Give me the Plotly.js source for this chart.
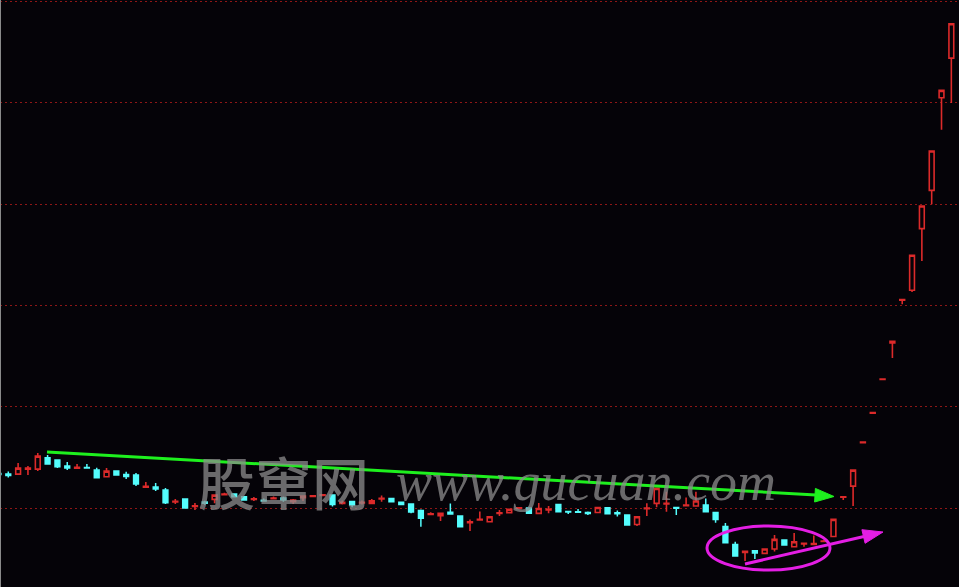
<!DOCTYPE html>
<html><head><meta charset="utf-8">
<script src="https://cdn.plot.ly/plotly-3.0.1.min.js"></script>
<style>html,body{margin:0;padding:0;background:#050308;overflow:hidden}</style>
</head><body><div id="chart" style="width:959px;height:587px"></div>
<script>
// Daily candles (price units)
const openP  = [12.65,12.60,12.60,13.10,13.10,14.23,14.00,13.40,13.20,13.27,
                13.00,12.33,12.90,12.55,12.50,11.30,11.30,11.00,9.80,10.10,
                9.35,9.80,10.07,10.53,10.60,10.33,10.07,9.97,10.13,10.20,
                9.83,10.25,10.37,10.47,10.50,9.67,9.85,9.70,9.67,10.10,
                10.17,9.77,9.60,8.95,8.57,8.43,8.77,8.40,7.73,8.00,
                7.83,8.67,8.73,9.17,9.20,8.67,9.00,9.55,8.85,8.83,
                8.75,8.75,9.23,8.73,8.50,7.55,9.13,9.67,9.60,9.25,
                9.43,9.40,9.50,8.75,7.35,5.55,4.77,4.93,4.67,5.10,
                6.00,5.33,5.60,5.57,5.85,6.35,10.30,11.40,15.75,18.70,
                22.07,25.73,30.00,31.00,37.17,41.00,50.27,54.23];
const highP  = [12.80,12.85,13.70,13.40,14.70,14.50,14.05,13.80,13.60,13.60,
                13.23,13.20,12.95,12.83,12.70,11.80,11.70,11.20,10.10,10.15,
                9.70,9.93,10.55,10.73,10.65,10.40,10.30,10.17,10.35,10.33,
                10.10,10.40,10.45,10.55,10.55,9.95,9.90,9.95,10.10,10.45,
                10.20,9.80,9.67,9.05,8.77,8.75,9.65,8.45,8.05,8.85,
                8.35,9.00,9.10,9.25,9.25,9.70,9.40,9.60,8.85,9.10,
                8.85,9.27,9.25,8.95,8.55,8.35,9.67,11.20,10.83,9.25,
                10.25,10.83,10.17,8.80,7.70,5.83,4.95,4.95,5.15,6.50,
                6.05,6.70,5.67,6.45,6.00,8.10,10.35,13.05,15.80,18.75,
                22.12,25.90,30.07,34.55,39.45,44.95,51.05,57.70];
const lowP   = [12.40,12.25,12.50,12.50,12.90,13.55,13.20,13.00,13.20,13.20,
                12.23,12.30,12.45,12.10,11.40,11.30,10.90,9.60,9.60,9.15,
                9.00,9.53,9.67,10.53,10.30,9.95,9.90,9.90,10.13,9.83,
                9.60,9.90,10.35,10.45,9.35,9.55,9.27,9.55,9.60,9.83,
                9.80,9.50,8.67,7.33,8.57,7.90,8.60,7.30,6.90,8.00,
                7.80,8.40,8.70,9.15,8.65,8.65,8.67,8.80,8.60,8.77,
                8.50,8.70,8.60,8.35,7.45,7.40,8.40,9.27,8.83,8.50,
                9.43,9.37,8.80,7.73,5.70,4.35,3.90,4.10,4.65,4.85,
                5.45,5.25,5.33,5.57,5.80,6.30,10.00,9.40,15.75,18.70,
                22.07,24.23,29.60,30.83,33.93,39.60,47.07,49.73];
const closeP = [12.55,12.45,13.20,13.20,14.40,13.60,13.33,13.20,13.27,13.20,
                12.23,12.90,12.50,12.35,11.60,11.37,11.10,9.73,9.87,9.20,
                9.43,9.67,10.50,10.60,10.33,10.00,10.13,9.90,10.20,10.00,
                10.00,10.40,10.43,10.53,9.55,9.77,9.50,9.77,9.93,10.17,
                9.83,9.55,8.80,8.17,8.63,8.67,8.60,7.33,7.83,8.07,
                8.33,8.73,9.07,9.23,8.67,9.15,9.07,8.83,8.80,8.77,
                8.65,9.25,8.63,8.63,7.50,8.33,9.20,11.17,9.67,9.17,
                9.50,9.90,8.83,8.05,5.73,4.40,4.87,4.70,5.10,6.07,
                5.50,5.83,5.67,5.65,5.90,8.07,10.33,13.00,15.80,18.75,
                22.12,25.90,30.07,34.50,39.43,44.93,51.00,57.67];
const dayIndex = openP.map((_, i) => i);

const W = 959, H = 587;
const BG = '#050308', RED = '#dc2a2a', CYAN = '#54fdfd';
const GREEN = '#1ef01e', MAGENTA = '#e41ee4';
const fx = p => p / W, fy = p => 1 - p / H;
const pathOf = pts => 'M ' + pts.map(([a, b]) => fx(a) + ' ' + fy(b)).join(' L ') + ' Z';

const trace = {
  type: 'candlestick',
  x: dayIndex, open: openP, high: highP, low: lowP, close: closeP,
  increasing: {line: {color: RED, width: 1.6}, fillcolor: BG},
  decreasing: {line: {color: CYAN, width: 1.5}, fillcolor: CYAN},
  hoverinfo: 'skip'
};

const layout = {
  width: W, height: H,
  margin: {l: 0, r: 0, t: 0, b: 0},
  paper_bgcolor: BG, plot_bgcolor: BG,
  showlegend: false,
  xaxis: {range: [0.155, 97.78], showgrid: false, zeroline: false, showticklabels: false,
          ticks: '', showline: false, rangeslider: {visible: false}, fixedrange: true},
  yaxis: {range: [1.3, 60.05], showgrid: true, gridcolor: '#8e1616', gridwidth: 1,
          griddash: '2px,3px', tick0: 9.17, dtick: 10.146, zeroline: false,
          showticklabels: false, ticks: '', showline: false, fixedrange: true},
  shapes: [
    {type: 'line', xref: 'paper', yref: 'paper', x0: fx(0.5), x1: fx(0.5), y0: 0, y1: 1,
     line: {color: '#8a8a8a', width: 1}},
    {type: 'line', xref: 'paper', yref: 'paper', x0: fx(47), y0: fy(452), x1: fx(816), y1: fy(495),
     line: {color: GREEN, width: 3}},
    {type: 'path', xref: 'paper', yref: 'paper', path: pathOf([[834, 496.5], [815.4, 488.4], [814.6, 502]]),
     fillcolor: GREEN, line: {color: GREEN, width: 1}},
    {type: 'circle', xref: 'paper', yref: 'paper', x0: fx(707), x1: fx(830), y0: fy(570), y1: fy(526),
     line: {color: MAGENTA, width: 3}},
    {type: 'line', xref: 'paper', yref: 'paper', x0: fx(745), y0: fy(564), x1: fx(864), y1: fy(536.5),
     line: {color: MAGENTA, width: 3}},
    {type: 'path', xref: 'paper', yref: 'paper', path: pathOf([[883, 532], [865.1, 543.3], [861.9, 529.7]]),
     fillcolor: MAGENTA, line: {color: MAGENTA, width: 1}}
  ],
  annotations: [
    {xref: 'paper', yref: 'paper', x: fx(283.5), y: fy(479.5), xanchor: 'center', yanchor: 'middle',
     text: '股窜网', showarrow: false,
     font: {family: 'Noto Sans CJK SC', size: 57, weight: 500, color: 'rgba(140,140,140,0.75)'}},
    {xref: 'paper', yref: 'paper', x: fx(586), y: fy(482), xanchor: 'center', yanchor: 'middle',
     text: '<i>www.gucuan.com</i>', showarrow: false,
     font: {family: 'Liberation Serif', size: 54, color: 'rgba(140,140,140,0.75)'}}
  ]
};

Plotly.newPlot('chart', [trace], layout, {displayModeBar: false, staticPlot: true});
</script>
</body></html>
